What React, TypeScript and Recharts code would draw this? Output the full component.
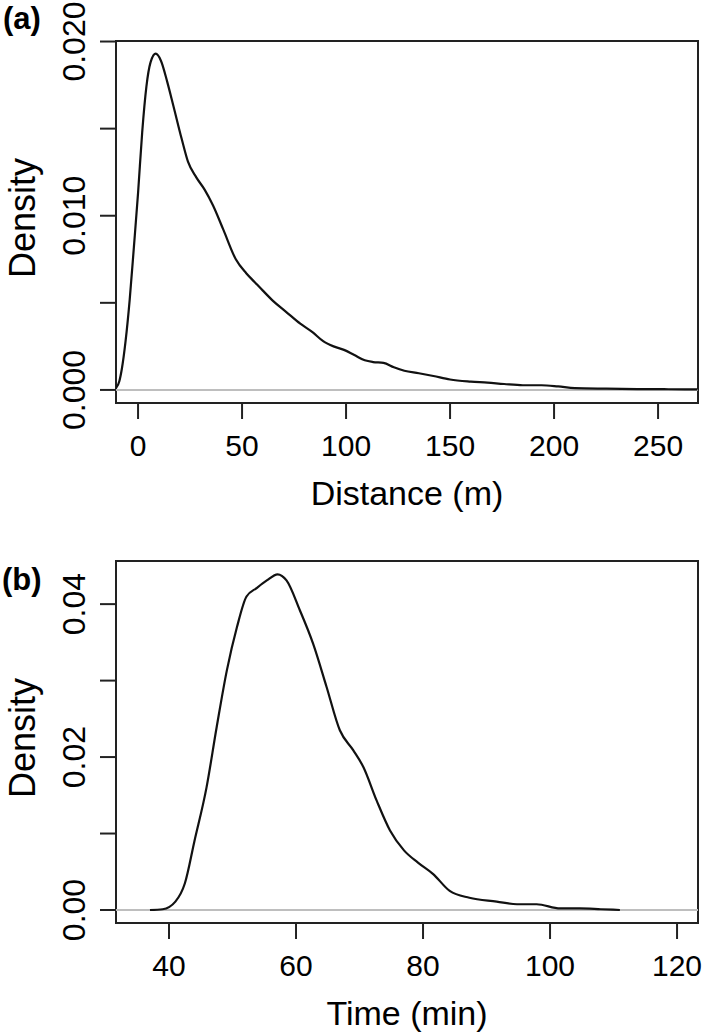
import { LineChart, Line, XAxis, YAxis, ReferenceArea, ReferenceLine, Label } from 'recharts';

const FONT = '"Liberation Sans", Arial, Helvetica, sans-serif';

// (a) distance density curve
const distanceX = [
  -10.6, -9, -7.8, -6, -4, -2, 0, 2, 4, 6, 8.5, 11, 14, 17, 21, 24, 28, 32, 36, 41, 47, 52, 56, 60, 65,
  71, 78, 84, 89, 94, 99, 104, 109, 113, 118, 123, 128, 135, 142, 150, 160, 168, 176, 185, 194, 202,
  210, 225, 240, 255, 269,
];
const distanceDensity = [
  0.0001, 0.0005, 0.0012, 0.0028, 0.0052, 0.0082, 0.0113, 0.0148, 0.0174, 0.0188, 0.0193, 0.0189,
  0.0177, 0.0163, 0.0144, 0.0131, 0.0122, 0.0115, 0.0106, 0.0092, 0.0075, 0.0067, 0.0062, 0.0057,
  0.0051, 0.0045, 0.0038, 0.0033, 0.0028, 0.0025, 0.0023, 0.002, 0.0017, 0.0016, 0.00155, 0.0013,
  0.0011, 0.00096, 0.0008, 0.0006, 0.00048, 0.00042, 0.00034, 0.00027, 0.00027, 0.0002, 0.0001,
  0.00007, 0.00005, 0.00004, 0.00003,
];

// (b) time density curve
const timeX = [
  37, 39, 41, 42.5, 44, 45.9, 47.5, 49.1, 50.7, 52.2, 53.8, 55.4, 57.1, 58.5, 60.6, 62.7, 64.8, 66.9,
  69, 70.6, 72.7, 74.8, 77, 79.2, 81.6, 84.2, 87.3, 91.6, 94.8, 97.9, 101.6, 104.7, 108, 111,
];
const timeDensity = [
  0, 0.0001, 0.0011, 0.0035, 0.009, 0.016, 0.0239, 0.0313, 0.037, 0.041, 0.0421, 0.0431, 0.0439,
  0.0431, 0.0392, 0.0348, 0.0292, 0.0235, 0.0209, 0.0187, 0.0143, 0.0104, 0.0078, 0.0062, 0.0047,
  0.0025, 0.0016, 0.0011, 0.00075, 0.00075, 0.0002, 0.0002, 0.0001, 0,
];

const distanceTicks = [0, 50, 100, 150, 200, 250];
const distanceDensityTicks = [0, 0.005, 0.01, 0.015, 0.02];
const distanceDensityLabels = ['0.000', '', '0.010', '', '0.020'];

const timeTicks = [40, 60, 80, 100, 120];
const timeDensityTicks = [0, 0.01, 0.02, 0.03, 0.04];
const timeDensityLabels = ['0.00', '', '0.02', '', '0.04'];

const distanceXDomain: [number, number] = [-10.6, 269.2];
const distanceYDomain: [number, number] = [-0.00075, 0.02003];
const timeXDomain: [number, number] = [31.65, 123.3];
const timeYDomain: [number, number] = [-0.0017, 0.04564];

const toRows = (xs: number[], ys: number[]) => xs.map((x, i) => ({ x, y: ys[i] }));

const XTick = (props: any) => {
  const { x, y, payload } = props;
  return (
    <text x={x} y={y + 35} textAnchor="middle" fontSize={30} fill="#000" fontFamily={FONT}>
      {payload.value}
    </text>
  );
};

const makeYTick = (ticks: number[], labels: string[]) => (props: any) => {
  const { x, y, payload } = props;
  const lab = labels[ticks.indexOf(payload.value)] || '';
  const bx = x - 13;
  return (
    <text
      x={bx}
      y={y}
      transform={`rotate(-90 ${bx} ${y})`}
      textAnchor="middle"
      fontSize={32}
      fill="#000"
      fontFamily={FONT}
    >
      {lab}
    </text>
  );
};

const XTitle = (text: string) => (props: any) => {
  const vb = props.viewBox;
  return (
    <text x={vb.x + vb.width / 2} y={vb.y + 102} textAnchor="middle" fontSize={34} fill="#000" fontFamily={FONT}>
      {text}
    </text>
  );
};

const YTitle = (props: any) => {
  const vb = props.viewBox;
  const cx = vb.x + 35;
  const cy = vb.y + vb.height / 2 - 4;
  return (
    <text x={cx} y={cy} transform={`rotate(-90 ${cx} ${cy})`} textAnchor="middle" fontSize={36} fill="#000" fontFamily={FONT}>
      Density
    </text>
  );
};

type PanelProps = {
  xs: number[];
  ys: number[];
  xDomain: [number, number];
  yDomain: [number, number];
  xTicks: number[];
  yTicks: number[];
  yLabels: string[];
  xTitle: string;
  height: number;
};

const DensityPanel = ({ xs, ys, xDomain, yDomain, xTicks, yTicks, yLabels, xTitle, height }: PanelProps) => (
  <LineChart width={709} height={height} data={toRows(xs, ys)} margin={{ top: 41, right: 11, bottom: 0, left: 0 }}>
    <XAxis
      dataKey="x"
      type="number"
      domain={xDomain}
      ticks={xTicks}
      interval={0}
      allowDataOverflow
      axisLine={false}
      tickLine={{ stroke: '#222', strokeWidth: 2 }}
      tickSize={16}
      tick={XTick}
      height={height - 41 - 362}
    >
      <Label content={XTitle(xTitle)} />
    </XAxis>
    <YAxis
      type="number"
      domain={yDomain}
      ticks={yTicks}
      interval={0}
      allowDataOverflow
      axisLine={false}
      tickLine={{ stroke: '#222', strokeWidth: 2 }}
      tickSize={16}
      tick={makeYTick(yTicks, yLabels)}
      width={116}
    >
      <Label content={YTitle} />
    </YAxis>
    <ReferenceLine y={0} stroke="#bebebe" strokeWidth={2} ifOverflow="visible" />
    <Line type="monotone" dataKey="y" stroke="#111" strokeWidth={2.2} dot={false} isAnimationActive={false} />
    <ReferenceArea
      x1={xDomain[0]}
      x2={xDomain[1]}
      y1={yDomain[0]}
      y2={yDomain[1]}
      fill="none"
      stroke="#222"
      strokeWidth={2}
      ifOverflow="visible"
    />
  </LineChart>
);

const panelTag = { position: 'absolute' as const, fontFamily: FONT, fontWeight: 700, fontSize: 31, lineHeight: '30px' };

export default function App() {
  return (
    <div style={{ position: 'absolute', left: 0, top: 0, width: 709, height: 1036, background: '#fff' }}>
      <div style={{ position: 'absolute', left: 0, top: 0 }}>
        <DensityPanel
          xs={distanceX}
          ys={distanceDensity}
          xDomain={distanceXDomain}
          yDomain={distanceYDomain}
          xTicks={distanceTicks}
          yTicks={distanceDensityTicks}
          yLabels={distanceDensityLabels}
          xTitle="Distance (m)"
          height={520}
        />
      </div>
      <div style={{ position: 'absolute', left: 0, top: 520 }}>
        <DensityPanel
          xs={timeX}
          ys={timeDensity}
          xDomain={timeXDomain}
          yDomain={timeYDomain}
          xTicks={timeTicks}
          yTicks={timeDensityTicks}
          yLabels={timeDensityLabels}
          xTitle="Time (min)"
          height={516}
        />
      </div>
      <div style={{ ...panelTag, left: 3, top: 4 }}>(a)</div>
      <div style={{ ...panelTag, left: 2, top: 565 }}>(b)</div>
    </div>
  );
}
